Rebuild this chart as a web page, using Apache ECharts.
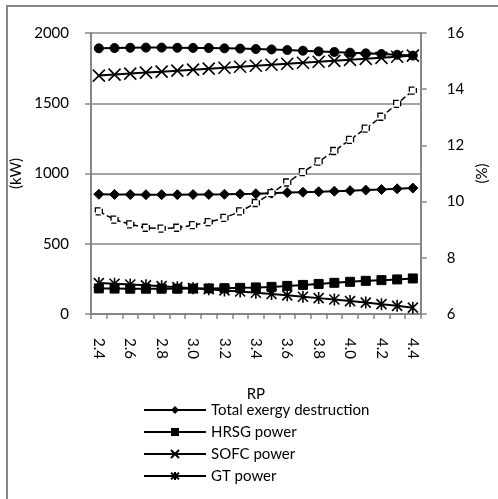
<!DOCTYPE html>
<html>
<head>
<meta charset="utf-8">
<script src="https://cdn.jsdelivr.net/npm/echarts@6/dist/echarts.min.js"></script>
<style>
html,body{margin:0;padding:0;background:#fff;}
#chart{width:498px;height:499px;}
</style>
</head>
<body>
<div id="chart"></div>
<script>
// Categories (RP)
const categories = ['2.4','2.5','2.6','2.7','2.8','2.9','3.0','3.1','3.2','3.3','3.4','3.5','3.6','3.7','3.8','3.9','4.0','4.1','4.2','4.3','4.4'];

// Left axis (kW)
const topCircles = [1891,1893,1895,1896,1896,1895,1894,1893,1891,1889,1886,1883,1879,1874,1869,1865,1860,1855,1850,1845,1839];
const sofcPower = [1697,1704,1711,1718,1725,1732,1739,1746,1753,1760,1767,1774,1781,1788,1795,1802,1809,1816,1823,1831,1839];
const totalExergyDestruction = [852,851,850,849,849,849,850,851,852,854,856,860,864,867,870,874,878,882,886,891,896];
const hrsgPower = [182,181,180,180,180,180,181,182,184,186,189,193,200,207,214,222,229,236,241,246,253];
const gtPower = [220,215,210,204,198,191,184,176,168,160,151,142,133,123,113,103,92,81,70,58,45];

// Right axis (%)
const efficiency = [9.65,9.36,9.19,9.07,9.04,9.07,9.16,9.27,9.42,9.65,9.95,10.30,10.68,11.05,11.42,11.80,12.20,12.60,13.02,13.48,13.95];

const leftTicks = {min:0, max:2000, interval:500};
const rightTicks = {min:6, max:16, interval:2};

const FONT = 'Lato';
const GRAY = '#868686';
const X_PATH = 'path://M0,0L10,10M10,0L0,10';
const STAR_PATH = 'path://M0,0L10,10M10,0L0,10M5,-1L5,11';

const chart = echarts.init(document.getElementById('chart'), null, {renderer:'canvas'});

function lineSeries(name, data, symbol, size, extra) {
  return Object.assign({
    name: name,
    type: 'line',
    data: data,
    symbol: symbol,
    symbolSize: size,
    symbolKeepAspect: true,
    showAllSymbol: true,
    lineStyle: {color:'#000', width:2},
    itemStyle: {color:'#000', borderColor:'#000'},
    emphasis: {disabled:true},
    animation: false
  }, extra || {});
}

const option = {
  animation: false,
  textStyle: {fontFamily: FONT},
  graphic: [{
    type: 'rect',
    shape: {x: 7, y: 6, width: 700, height: 700},
    style: {fill: 'none', stroke: GRAY, lineWidth: 2},
    silent: true
  }],
  grid: {left: 91, right: 57, top: 33, bottom: 185, containLabel: false},
  legend: {
    orient: 'vertical',
    left: 143,
    top: 401,
    height: 200,
    padding: 0,
    itemWidth: 62,
    itemHeight: 10,
    itemGap: 4,
    data: ['Total exergy destruction','HRSG power','SOFC power','GT power'],
    textStyle: {fontFamily: FONT, fontSize: 15, color: '#000', lineHeight: 18},
    selectedMode: false
  },
  xAxis: {
    type: 'category',
    data: categories,
    boundaryGap: true,
    name: 'RP',
    nameLocation: 'middle',
    nameGap: 73,
    nameTextStyle: {fontFamily: FONT, fontSize: 15, color: '#000'},
    axisLine: {lineStyle: {color: GRAY, width: 2}},
    axisTick: {show: true, interval: 0, length: 5, lineStyle: {color: GRAY, width: 1.5}},
    axisLabel: {interval: 1, rotate: -90, fontFamily: FONT, fontSize: 15, color: '#000', margin: 24},
    splitLine: {show: false}
  },
  yAxis: [{
    type: 'value',
    min: leftTicks.min, max: leftTicks.max, interval: leftTicks.interval,
    name: '(kW)',
    nameLocation: 'middle',
    nameRotate: 90,
    nameGap: 56,
    nameTextStyle: {fontFamily: FONT, fontSize: 15, color: '#000'},
    axisLine: {show: true, lineStyle: {color: GRAY, width: 2}},
    axisTick: {show: true, length: 6, lineStyle: {color: GRAY, width: 1.5}},
    axisLabel: {fontFamily: FONT, fontSize: 15, color: '#000', margin: 22, formatter: v => String(v)},
    splitLine: {show: true, lineStyle: {color: GRAY, width: 1.5}}
  }, {
    type: 'value',
    position: 'right',
    min: rightTicks.min, max: rightTicks.max, interval: rightTicks.interval,
    name: '(%)',
    nameLocation: 'middle',
    nameRotate: 90,
    nameGap: 43,
    nameTextStyle: {fontFamily: FONT, fontSize: 15, color: '#000'},
    axisLine: {show: true, lineStyle: {color: GRAY, width: 2}},
    axisTick: {show: true, length: 6, lineStyle: {color: GRAY, width: 1.5}},
    axisLabel: {fontFamily: FONT, fontSize: 15, color: '#000', margin: 26, formatter: v => String(v)},
    splitLine: {show: false}
  }],
  series: [
    lineSeries('Total power', topCircles, 'circle', 9),
    lineSeries('SOFC power', sofcPower, X_PATH, 12, {itemStyle:{color:'none', borderColor:'#000', borderWidth:1.6}}),
    lineSeries('Total exergy destruction', totalExergyDestruction, 'diamond', 10),
    lineSeries('Efficiency', efficiency, 'rect', 7, {
      yAxisIndex: 1,
      lineStyle: {color:'#000', width:1.5, type:'dashed'},
      itemStyle: {color:'#fff', borderColor:'#000', borderWidth:1.3, borderType:'dashed'}
    }),
    lineSeries('HRSG power', hrsgPower, 'rect', 9),
    lineSeries('GT power', gtPower, STAR_PATH, 12, {itemStyle:{color:'none', borderColor:'#000', borderWidth:1.6}})
  ]
};
chart.setOption(option);
</script>
</body>
</html>
